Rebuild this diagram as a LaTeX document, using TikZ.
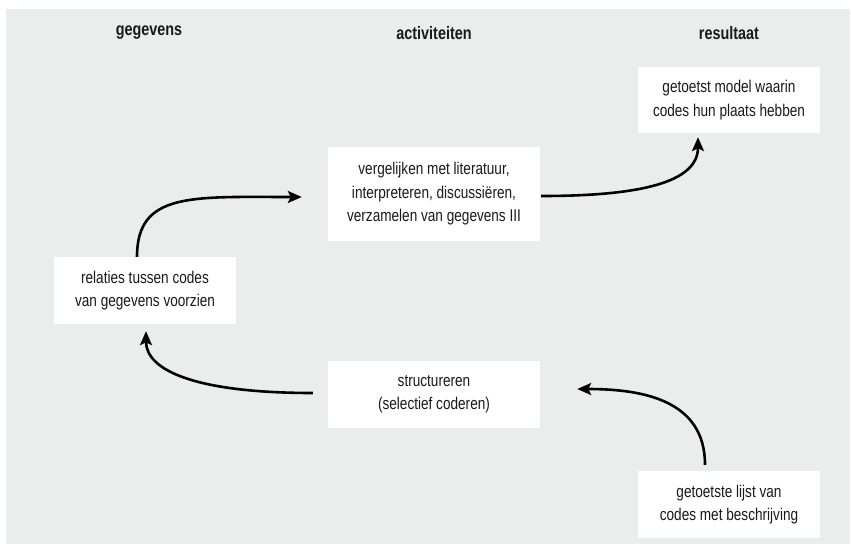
\documentclass[tikz,border=0pt]{standalone}
\usepackage{fontspec}
\setmainfont[FakeStretch=0.8]{Liberation Sans}
\usetikzlibrary{arrows.meta}
\definecolor{bg}{HTML}{EBECEC}
\definecolor{ink}{HTML}{1A1A1A}
\tikzset{
  box/.style={fill=white, draw=none, align=center, text=ink, font=\fontsize{17}{23.5}\selectfont, inner sep=0pt},
  head/.style={text=ink, font=\fontsize{18}{20}\selectfont\bfseries},
  arr/.style={line width=2.6pt, draw=black, -{Stealth[length=14pt,width=12pt,inset=3pt]}}
}
\begin{document}
\begin{tikzpicture}[x=1pt,y=-1pt]
\useasboundingbox (0,0) rectangle (851,546);
\fill[bg] (6,9) rectangle (850,544);
\node[head] (h1) at (149,33) {gegevens};
\node[head] (h2) at (434,33) {activiteiten};
\node[head] (h3) at (729,33) {resultaat};
\node[box, minimum width=182pt, minimum height=67pt] (rel) at (145,290.5) {relaties tussen codes\\van gegevens voorzien};
\node[box, minimum width=212pt, minimum height=94pt] (mid) at (434,194) {vergelijken met literatuur,\\interpreteren, discussiëren,\\verzamelen van gegevens III};
\node[box, minimum width=182pt, minimum height=66pt] (top) at (729,100) {getoetst model waarin\\codes hun plaats hebben};
\node[box, minimum width=212pt, minimum height=67pt] (str) at (434,394.5) {structureren\\(selectief coderen)};
\node[box, minimum width=182pt, minimum height=67pt] (bot) at (729,504.5) {getoetste lijst van\\codes met beschrijving};
\draw[arr] ([xshift=-8pt]rel.north) .. controls +(0,-65) and +(-110,0) .. ([xshift=-26pt,yshift=-3pt]mid.west);
\draw[arr] ([xshift=1pt,yshift=-2pt]mid.east) .. controls +(100,0) and +(0,45) .. ([xshift=-31pt,yshift=-4pt]top.south);
\draw[arr] ([xshift=-15pt,yshift=1.5pt]str.west) .. controls +(-115,0) and +(0,40) .. ([xshift=1pt,yshift=-7pt]rel.south);
\draw[arr] ([xshift=-24pt,yshift=6pt]bot.north) .. controls +(0,-65) and +(65,0) .. ([xshift=37pt,yshift=5.5pt]str.east);
\end{tikzpicture}
\end{document}
